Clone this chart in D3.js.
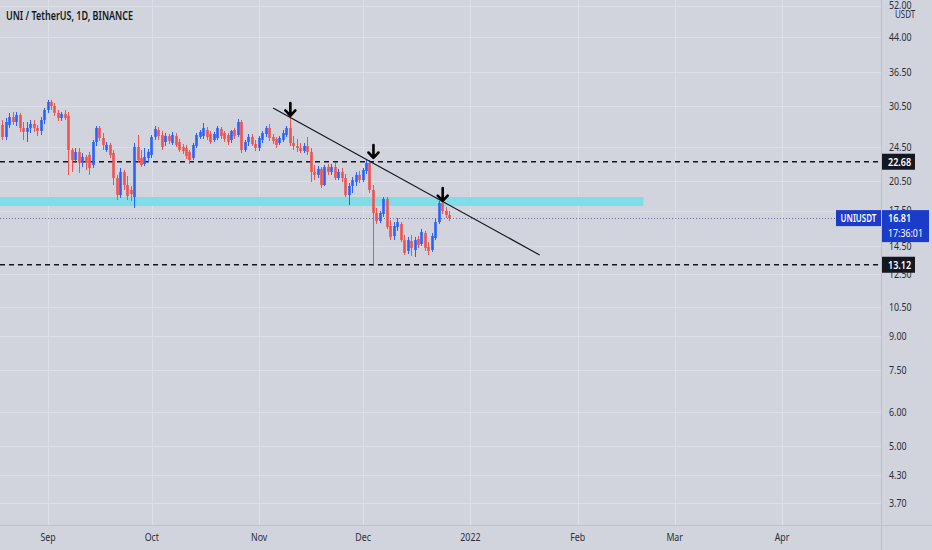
<!DOCTYPE html>
<html><head><meta charset="utf-8">
<script src="https://cdn.jsdelivr.net/npm/d3@7/dist/d3.min.js"></script>
<style>
html,body{margin:0;padding:0;background:#d1d4dc;overflow:hidden;}
svg{display:block;font-family:"Noto Sans","Liberation Sans",sans-serif;}
</style></head>
<body><svg id="c" width="932" height="550"></svg>
<script>
// ---------- DATA ----------
const title = "UNI / TetherUS, 1D, BINANCE";
const firstDay = "2021-08-19";           // daily candles, consecutive days
const opens  = [27.57,25.87,27.57,28.77,28.01,29.08,27.14,26.57,27.14,27.72,27.14,26.71,28.31,
 29.86,31.16,30.50,29.39,28.62,29.24,28.93,24.14,22.89,23.89,22.65,23.26,23.51,22.29,25.19,27.14,25.73,24.14,24.79,23.76,20.80,19.00,21.48,20.04,19.52,18.80,24.53,23.14,22.41,23.14,
 23.51,25.87,26.85,26.14,25.19,26.00,25.06,26.00,25.19,24.53,24.40,23.89,23.14,24.66,25.87,26.00,26.85,26.28,25.46,25.73,27.00,26.42,26.14,25.46,26.85,26.14,28.01,24.14,25.19,25.87,24.92,24.40,
 25.46,26.28,27.14,25.87,25.60,25.06,25.46,26.14,27.14,25.06,24.66,24.40,24.01,24.66,23.89,21.48,21.14,21.83,20.04,22.06,21.48,22.06,20.80,21.48,20.80,19.00,19.94,20.36,21.14,
 20.58,21.60,22.53,19.52,17.27,16.55,17.18,18.61,16.12,15.29,16.03,16.29,14.96,14.12,14.88,14.19,15.04,14.65,15.53,14.42,14.19,15.12,16.46,18.21,17.46,17.09];
const highs  = [28.31,28.62,29.39,29.55,29.55,29.39,28.01,28.01,28.31,28.31,27.57,28.77,30.18,
 31.50,31.50,30.99,29.86,29.55,29.86,29.55,24.40,24.40,24.40,23.76,23.51,23.89,25.46,27.42,27.42,26.42,25.19,25.06,24.14,21.14,21.94,21.71,21.03,19.94,25.06,26.14,24.14,24.40,24.27,
 26.14,27.42,27.28,26.71,26.42,26.28,26.57,26.42,25.60,24.92,24.79,24.14,25.06,26.42,26.85,27.87,27.28,26.71,26.57,27.42,27.28,26.71,26.42,26.85,27.14,28.46,28.31,25.46,26.28,26.28,25.46,26.00,
 26.71,27.42,27.72,26.28,25.87,26.00,26.85,27.42,28.62,26.00,25.60,25.06,25.06,25.87,24.40,22.29,22.17,22.06,22.29,22.41,22.41,22.53,21.83,21.94,21.25,20.25,20.91,21.48,21.60,
 21.94,23.01,22.89,20.04,17.74,17.46,18.80,18.80,16.64,16.46,16.82,16.46,15.37,15.21,15.37,15.21,15.29,15.86,15.70,14.80,15.53,16.82,18.41,18.61,17.83,17.46];
const lows   = [25.46,25.46,27.14,27.57,27.42,26.57,25.46,25.19,26.42,26.57,26.00,26.14,27.72,
 29.39,29.86,28.93,28.16,28.16,28.31,21.14,21.48,22.53,21.37,22.06,21.71,21.14,21.94,24.66,25.33,24.14,23.89,23.14,20.04,18.51,18.71,19.52,18.51,18.41,17.74,22.53,22.06,22.17,22.65,
 23.14,25.46,25.46,24.14,24.66,24.92,24.79,24.53,23.89,23.64,23.01,22.41,22.89,24.40,25.60,25.60,25.46,24.92,25.19,25.46,25.60,25.19,24.79,25.06,25.60,25.87,23.76,23.89,24.66,24.66,24.01,24.01,
 25.06,25.87,25.33,24.92,24.40,24.79,25.19,25.87,24.66,24.14,23.89,23.76,23.76,23.51,20.36,20.58,20.80,19.73,19.94,21.14,21.14,20.58,20.58,20.36,18.80,18.02,19.21,19.94,20.25,
 20.36,21.25,19.21,13.12,16.29,16.37,16.91,15.86,14.96,14.96,15.70,14.80,13.82,13.89,13.75,13.67,14.34,14.50,14.12,13.82,14.05,14.96,16.29,17.18,16.82,16.55];
const closes = [25.87,28.01,28.77,28.01,29.08,27.14,26.57,27.14,27.72,27.14,26.71,28.31,29.86,
 31.16,30.50,29.39,28.62,29.24,28.62,24.14,22.89,23.89,22.53,23.26,22.53,21.94,25.19,27.14,25.73,24.79,24.79,23.51,20.80,19.00,21.48,20.04,18.90,19.10,24.53,22.89,22.29,23.26,23.89,
 25.87,27.00,26.00,24.53,26.00,25.33,26.14,24.79,24.14,24.01,23.39,22.89,24.79,26.14,26.57,27.14,25.87,25.19,26.28,27.14,26.00,25.60,25.19,26.71,26.00,28.01,24.14,25.19,25.87,24.92,24.40,25.73,
 26.42,27.14,25.73,25.33,24.79,25.73,26.42,27.14,25.06,24.66,24.40,24.01,24.66,23.89,21.48,21.14,21.83,20.04,22.06,21.48,22.06,20.80,21.48,20.80,19.00,19.94,20.58,21.14,20.58,
 21.71,22.53,19.52,17.27,16.55,17.27,18.61,16.03,15.21,16.12,16.46,14.96,13.97,14.96,14.34,14.96,14.57,15.62,14.34,14.12,15.29,16.46,18.21,17.46,17.09,16.81];

const priceTicks = [52, 44, 36.5, 30.5, 24.5, 20.5, 17.5, 14.5, 12.5, 10.5, 9, 7.5, 6, 5, 4.3, 3.7];
const monthTickDates = ["2021-09-01","2021-10-01","2021-11-01","2021-12-01","2022-01-01","2022-02-01","2022-03-01","2022-04-01"];
const monthLabels = ["Sep","Oct","Nov","Dec","2022","Feb","Mar","Apr"];

const hLevels = [22.68, 13.12];                 // dashed horizontal lines
const zone = {from:"2021-08-01", to:"2022-02-20", low:17.92, high:18.80};
const trendDates = ["2021-11-05","2022-01-21"];
const trendPrices = [30.18, 13.82];
const arrowDates = ["2021-11-10","2021-12-04","2021-12-24"];
const arrowPrices = [28.77, 23.01, 18.30];
const symbol = "UNIUSDT", lastPrice = 16.81, countdown = "17:36:01", unit = "USDT";

// ---------- LAYOUT ----------
const W = 932, H = 550, PR = 881, PB = 525;
const BG = "#d1d4dc", UP = "#2962ff", DN = "#ef5350", INK = "#131722";
const parse = d3.timeParse("%Y-%m-%d");
const f0 = parse(firstDay);
const candles = opens.map((o,i)=>({date:d3.timeDay.offset(f0,i), o, h:highs[i], l:lows[i], c:closes[i]}));

const x = d3.scaleTime().domain([parse("2021-09-01"), parse("2022-04-01")]).range([48, 782]);
const y = d3.scaleLog().domain([3.7, 44]).range([503, 37]);

const svg = d3.select("#c");
svg.append("rect").attr("width",W).attr("height",H).attr("fill",BG);
svg.append("clipPath").attr("id","plot").append("rect").attr("width",PR).attr("height",PB);
const plot = svg.append("g").attr("clip-path","url(#plot)");

// grid
plot.selectAll("line.hg").data(priceTicks).join("line")
  .attr("x1",0).attr("x2",PR).attr("y1",d=>Math.round(y(d))+0.5).attr("y2",d=>Math.round(y(d))+0.5)
  .attr("stroke","#dcdfe6").attr("stroke-width",1);
plot.selectAll("line.vg").data(monthTickDates).join("line")
  .attr("y1",0).attr("y2",PB).attr("x1",d=>Math.round(x(parse(d)))+0.5).attr("x2",d=>Math.round(x(parse(d)))+0.5)
  .attr("stroke","#dcdfe6").attr("stroke-width",1);

// zone
plot.append("rect")
  .attr("x", x(parse(zone.from))).attr("width", x(parse(zone.to)) - x(parse(zone.from)))
  .attr("y", y(zone.high)).attr("height", y(zone.low) - y(zone.high))
  .attr("fill","#80dde7");

// last price dotted
plot.append("line").attr("x1",0).attr("x2",PR).attr("y1",Math.round(y(lastPrice))+0.5).attr("y2",Math.round(y(lastPrice))+0.5)
  .attr("stroke","#6a74a3").attr("stroke-width",1).attr("stroke-dasharray","1,2");

// dashed levels
plot.selectAll("line.lvl").data(hLevels).join("line")
  .attr("x1",0).attr("x2",PR).attr("y1",d=>y(d)).attr("y2",d=>y(d))
  .attr("stroke",INK).attr("stroke-width",1.6).attr("stroke-dasharray","5,4");

// candles
const bw = 2.6;
const cg = plot.append("g");
cg.selectAll("rect.w").data(candles).join("rect")
  .attr("x",d=>Math.round(x(d.date)-0.5)).attr("width",1)
  .attr("y",d=>y(d.h)).attr("height",d=>Math.max(0.5,y(d.l)-y(d.h)))
  .attr("fill",d=>d.c>=d.o?UP:DN);
cg.selectAll("rect.b").data(candles).join("rect")
  .attr("x",d=>Math.round(x(d.date)-0.5)+0.5-bw/2).attr("width",bw)
  .attr("y",d=>y(Math.max(d.o,d.c))).attr("height",d=>Math.max(1,Math.abs(y(d.o)-y(d.c))))
  .attr("fill",d=>d.c>=d.o?UP:DN);

// trend line
plot.append("line")
  .attr("x1",x(parse(trendDates[0]))).attr("y1",y(trendPrices[0]))
  .attr("x2",x(parse(trendDates[1]))).attr("y2",y(trendPrices[1]))
  .attr("stroke",INK).attr("stroke-width",1.2);

// arrows
const arrows = arrowDates.map((d,i)=>({x:x(parse(d)), y:y(arrowPrices[i])}));
plot.selectAll("path.arr").data(arrows).join("path")
  .attr("d",a=>`M${a.x},${a.y-14}L${a.x},${a.y-1.5}M${a.x-5},${a.y-6.5}L${a.x},${a.y-1.2}L${a.x+5},${a.y-6.5}`)
  .attr("fill","none").attr("stroke","#000").attr("stroke-width",2.6).attr("stroke-linecap","round").attr("stroke-linejoin","round");

// axes borders
svg.append("line").attr("x1",0).attr("x2",W).attr("y1",PB+0.5).attr("y2",PB+0.5).attr("stroke","#bcc0c9");
svg.append("line").attr("x1",PR+0.5).attr("x2",PR+0.5).attr("y1",0).attr("y2",H).attr("stroke","#bcc0c9");

function squeeze(sel, k){ sel.each(function(){ const w=this.getComputedTextLength(); d3.select(this).attr("textLength",w*k).attr("lengthAdjust","spacingAndGlyphs");}); }

// price axis labels
const yl = svg.append("g").selectAll("text").data(priceTicks).join("text")
  .attr("x",889).attr("y",d=>y(d)).attr("dy","0.35em")
  .attr("font-size",11).attr("fill","#2a2e39").text(d3.format(".2f"));
squeeze(yl,0.8);

// unit label
svg.append("rect").attr("x",884).attr("y",9).attr("width",40).attr("height",11).attr("fill",BG);
squeeze(svg.append("text").attr("x",895).attr("y",14.5).attr("dy","0.35em").attr("font-size",10).attr("fill","#2a2e39").text(unit),0.8);

// month labels
const xl = svg.append("g").selectAll("text").data(monthTickDates).join("text")
  .attr("x",d=>x(parse(d))).attr("y",537).attr("dy","0.35em").attr("text-anchor","middle")
  .attr("font-size",11).attr("fill","#2a2e39").text((d,i)=>monthLabels[i]);
squeeze(xl,0.8);

// level boxes
hLevels.forEach(v=>{
  const cy = y(v);
  svg.append("rect").attr("x",PR+1).attr("y",cy-8).attr("width",33).attr("height",16).attr("fill",INK);
  squeeze(svg.append("text").attr("x",888).attr("y",cy).attr("dy","0.36em").attr("font-size",11).attr("font-weight",600).attr("fill","#fff").text(d3.format(".2f")(v)),0.82);
});

// last price labels
const ly = y(lastPrice);
svg.append("rect").attr("x",836).attr("y",ly-8).attr("width",45).attr("height",16).attr("fill","#1b3bc9");
squeeze(svg.append("text").attr("x",858.5).attr("y",ly).attr("dy","0.36em").attr("text-anchor","middle").attr("font-size",10).attr("font-weight",600).attr("fill","#fff").text(symbol),0.8);
svg.append("rect").attr("x",PR+1).attr("y",ly-8).attr("width",47).attr("height",32).attr("fill","#1b3bc9");
squeeze(svg.append("text").attr("x",888).attr("y",ly).attr("dy","0.36em").attr("font-size",11).attr("font-weight",600).attr("fill","#fff").text(d3.format(".2f")(lastPrice)),0.82);
squeeze(svg.append("text").attr("x",888).attr("y",ly+15).attr("dy","0.36em").attr("font-size",11).attr("fill","#fff").text(countdown),0.8);

// title
svg.append("text").attr("x",6).attr("y",16).attr("dy","0.35em").attr("font-size",12).attr("font-weight",600)
  .attr("fill",INK).attr("textLength",127).attr("lengthAdjust","spacingAndGlyphs").text(title);
</script></body></html>
